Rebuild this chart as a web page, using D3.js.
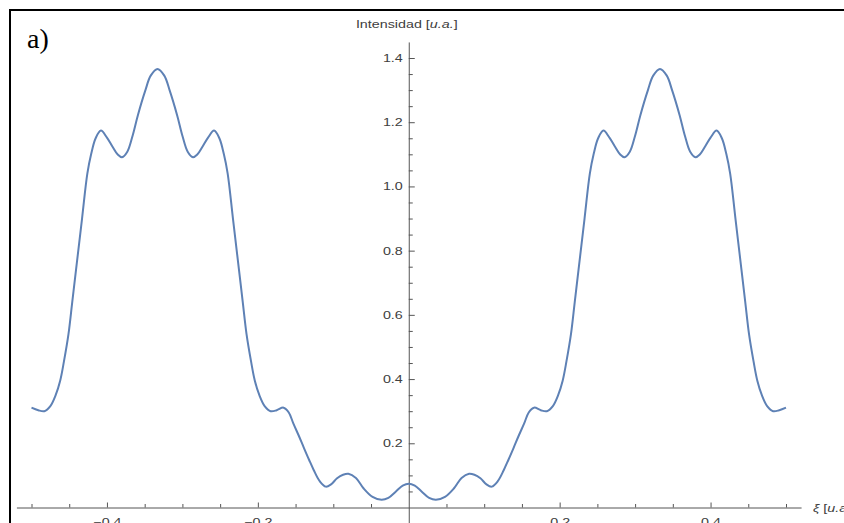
<!DOCTYPE html>
<html>
<head>
<meta charset="utf-8">
<script src="https://cdn.jsdelivr.net/npm/d3@7"></script>
<style>
  html, body { margin: 0; padding: 0; background: #fff; }
  svg { display: block; }
  .tick text { font-family: "Liberation Sans", Arial, sans-serif; font-size: 11px; fill: #404040; }
</style>
</head>
<body>
<svg id="chart" width="844" height="523"></svg>
<script>
// Intensity profile I(ξ), sampled along the spatial-frequency axis
const xi = [
  -0.500, -0.491, -0.483, -0.475, -0.468, -0.462, -0.457, -0.451, -0.446, -0.441,
  -0.433, -0.426, -0.421, -0.415, -0.408, -0.400, -0.393, -0.386, -0.380, -0.373,
  -0.366, -0.359, -0.349, -0.342, -0.333, -0.324, -0.317, -0.307, -0.300, -0.293,
  -0.286, -0.280, -0.273, -0.266, -0.258, -0.251, -0.245, -0.240, -0.233, -0.225,
  -0.220, -0.215, -0.209, -0.204, -0.198, -0.191, -0.183, -0.175, -0.166, -0.159,
  -0.153, -0.146, -0.139, -0.132, -0.126, -0.118, -0.110, -0.103, -0.095, -0.087,
  -0.080, -0.070, -0.060, -0.048, -0.036, -0.027, -0.017, -0.008,
   0.000,
   0.008,  0.017,  0.027,  0.036,  0.048,  0.060,  0.070,  0.080,  0.087,  0.095,
   0.103,  0.110,  0.118,  0.126,  0.132,  0.139,  0.146,  0.153,  0.159,  0.166,
   0.175,  0.183,  0.191,  0.198,  0.204,  0.209,  0.215,  0.220,  0.225,  0.233,
   0.240,  0.245,  0.251,  0.258,  0.266,  0.273,  0.280,  0.286,  0.293,  0.300,
   0.307,  0.317,  0.324,  0.333,  0.342,  0.349,  0.359,  0.366,  0.373,  0.380,
   0.386,  0.393,  0.400,  0.408,  0.415,  0.421,  0.426,  0.433,  0.441,  0.446,
   0.451,  0.457,  0.462,  0.468,  0.475,  0.483,  0.491,  0.500
];
const intensity = [
  0.311, 0.303, 0.300, 0.316, 0.350, 0.395, 0.455, 0.540, 0.640, 0.740,
  0.900, 1.040, 1.100, 1.150, 1.174, 1.152, 1.125, 1.100, 1.091, 1.108,
  1.158, 1.222, 1.300, 1.345, 1.366, 1.345, 1.300, 1.222, 1.158, 1.108,
  1.091, 1.100, 1.125, 1.152, 1.174, 1.150, 1.100, 1.040, 0.900, 0.740,
  0.640, 0.540, 0.455, 0.395, 0.350, 0.316, 0.300, 0.303, 0.311, 0.296,
  0.262, 0.225, 0.186, 0.148, 0.117, 0.082, 0.065, 0.072, 0.091, 0.102,
  0.105, 0.092, 0.060, 0.033, 0.024, 0.030, 0.050, 0.068,
  0.074,
  0.068, 0.050, 0.030, 0.024, 0.033, 0.060, 0.092, 0.105, 0.102, 0.091,
  0.072, 0.065, 0.082, 0.117, 0.148, 0.186, 0.225, 0.262, 0.296, 0.311,
  0.303, 0.300, 0.316, 0.350, 0.395, 0.455, 0.540, 0.640, 0.740, 0.900,
  1.040, 1.100, 1.150, 1.174, 1.152, 1.125, 1.100, 1.091, 1.108, 1.158,
  1.222, 1.300, 1.345, 1.366, 1.345, 1.300, 1.222, 1.158, 1.108, 1.091,
  1.100, 1.125, 1.152, 1.174, 1.150, 1.100, 1.040, 0.900, 0.740, 0.640,
  0.540, 0.455, 0.395, 0.350, 0.316, 0.300, 0.303, 0.311
];

// Axis ticks
const xMajorTicks = [-0.4, -0.2, 0.2, 0.4];
const xMajorLabels = ["\u22120.4", "\u22120.2", "0.2", "0.4"];
const xMinorTicks = [-0.5, -0.45, -0.35, -0.3, -0.25, -0.15, -0.1, -0.05,
                      0.05, 0.1, 0.15, 0.25, 0.3, 0.35, 0.45, 0.5];
const yMajorTicks = [0.2, 0.4, 0.6, 0.8, 1.0, 1.2, 1.4];
const yMajorLabels = ["0.2", "0.4", "0.6", "0.8", "1.0", "1.2", "1.4"];
const yMinorTicks = [0.05, 0.1, 0.15, 0.25, 0.3, 0.35, 0.45, 0.5, 0.55, 0.65, 0.7, 0.75,
                     0.85, 0.9, 0.95, 1.05, 1.1, 1.15, 1.25, 1.3, 1.35];

const svg = d3.select("#chart");
const W = 844, H = 523;
const stretch = 1.3;           // horizontal stretch of the axis lettering
const axisColor = "#555";
const lineColor = "#5E81B5";

svg.append("rect").attr("width", W).attr("height", H).attr("fill", "#fff");

// Scales
const x = d3.scaleLinear().domain([-0.5, 0.5]).range([31.5, 786]);
const y = d3.scaleLinear().domain([0, 1.4]).range([507.5, 58]);

// Axes extend a little past the data range
const xAxisScale = x.copy().domain([-0.52, 0.52]).range([x(-0.52), x(0.52)]);
const yAxisScale = y.copy().domain([-0.05, 1.45]).range([y(-0.05), y(1.45)]);

// x axis (ticks point up, labels below)
const gx = svg.append("g").attr("transform", `translate(0,${y(0)})`);
gx.call(d3.axisBottom(xAxisScale)
  .tickValues(xMajorTicks)
  .tickFormat((d, i) => xMajorLabels[i])
  .tickSizeInner(-5).tickSizeOuter(0).tickPadding(11));
gx.selectAll("text").attr("transform", `scale(${stretch},1)`);
gx.append("g").call(d3.axisBottom(xAxisScale)
  .tickValues(xMinorTicks).tickFormat("")
  .tickSizeInner(-3.5).tickSizeOuter(0))
  .select(".domain").remove();

// y axis (ticks point right, labels left)
const gy = svg.append("g").attr("transform", `translate(${x(0)},0)`);
gy.call(d3.axisLeft(yAxisScale)
  .tickValues(yMajorTicks)
  .tickFormat((d, i) => yMajorLabels[i])
  .tickSizeInner(-6).tickSizeOuter(0).tickPadding(4.6));
gy.selectAll("text").attr("transform", `scale(${stretch},1)`);
gy.append("g").call(d3.axisLeft(yAxisScale)
  .tickValues(yMinorTicks).tickFormat("")
  .tickSizeInner(-4).tickSizeOuter(0))
  .select(".domain").remove();

svg.selectAll(".domain, .tick line").attr("stroke", axisColor).attr("stroke-width", 1);

// Axis titles
const yTitle = svg.append("text")
  .attr("transform", `translate(${x(0) - 2},28) scale(${stretch},1)`)
  .attr("text-anchor", "middle")
  .attr("font-family", "'Liberation Sans', Arial, sans-serif")
  .attr("font-size", 11).attr("fill", "#404040");
yTitle.append("tspan").text("Intensidad [");
yTitle.append("tspan").attr("font-style", "italic").text("u.a.");
yTitle.append("tspan").text("]");

const xTitle = svg.append("text")
  .attr("transform", `translate(813,${y(0) + 4}) scale(${stretch},1)`)
  .attr("text-anchor", "start")
  .attr("font-family", "'Liberation Sans', Arial, sans-serif")
  .attr("font-size", 11).attr("fill", "#404040");
xTitle.append("tspan").attr("font-style", "italic").text("\u03BE");
xTitle.append("tspan").text(" [");
xTitle.append("tspan").attr("font-style", "italic").text("u.a.");
xTitle.append("tspan").text("]");

// Intensity curve
const pts = xi.map((v, i) => [v, intensity[i]]);
svg.append("path")
  .datum(pts)
  .attr("fill", "none")
  .attr("stroke", lineColor)
  .attr("stroke-width", 2)
  .attr("stroke-linejoin", "round")
  .attr("d", d3.line().x(d => x(d[0])).y(d => y(d[1])).curve(d3.curveCatmullRom.alpha(0.5)));

// Panel frame and label
svg.append("path")
  .attr("d", `M10,${H} V10 H${W}`)
  .attr("fill", "none").attr("stroke", "#000").attr("stroke-width", 2);

svg.append("text")
  .attr("x", 27).attr("y", 48)
  .attr("font-family", "'Liberation Serif', 'Times New Roman', serif")
  .attr("font-size", 28).attr("fill", "#000")
  .text("a)");
</script>
</body>
</html>
